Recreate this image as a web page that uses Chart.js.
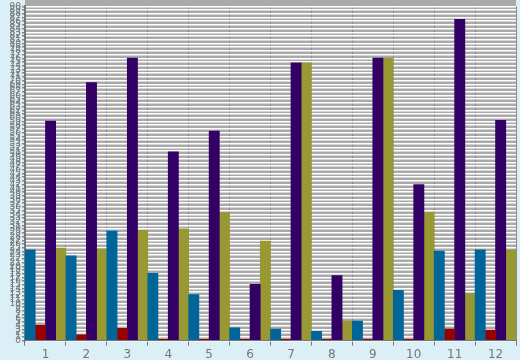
<!DOCTYPE html>
<html lang="en">
<head>
    <title>Bars</title>
    <meta charset="utf-8">
    <script src="https://cdn.jsdelivr.net/npm/chart.js@4.4.0/dist/chart.umd.min.js"></script>
    <style>
        html, body { margin: 0; padding: 0; background: #daeff6; }
        #wrap { width: 520px; height: 360px; }
    </style>
</head>
<body>
    <div id="wrap"><canvas id="chart" width="520" height="360"></canvas></div>
    <script>
    var categories = ["1", "2", "3", "4", "5", "6", "7", "8", "9", "10", "11", "12"];
    var seriesA = [24.4, 22.8, 29.5, 18.1, 12.4, 3.4, 3.1, 2.5, 5.2, 13.5, 24.1, 24.4];
    var seriesB = [4.1, 1.5, 3.3, 0.3, 0.3, 0.3, 0.3, 0.3, 0.3, 0.3, 3.1, 2.8];
    var seriesC = [59.1, 69.5, 76.1, 50.8, 56.4, 15.1, 74.8, 17.5, 76.1, 42.0, 86.5, 59.3];
    var seriesD = [24.9, 24.7, 29.7, 30.1, 34.5, 26.8, 74.8, 5.2, 76.1, 34.5, 12.7, 24.4];
    var yMax = 90;

    // grey plot background
    var plotBg = {
        id: "plotBg",
        beforeDraw: function(chart) {
            var a = chart.chartArea;
            var ctx = chart.ctx;
            ctx.save();
            ctx.fillStyle = "#aaaaaa";
            ctx.fillRect(a.left, 0, a.right - a.left, a.bottom);
            ctx.restore();
        }
    };

    var ctx = document.getElementById("chart").getContext("2d");
    var chart = new Chart(ctx, {
        type: "bar",
        data: {
            labels: categories,
            datasets: [
                { data: seriesA, backgroundColor: "#006699" },
                { data: seriesB, backgroundColor: "#990000" },
                { data: seriesC, backgroundColor: "#330066" },
                { data: seriesD, backgroundColor: "#999933" }
            ]
        },
        options: {
            responsive: false,
            animation: false,
            devicePixelRatio: 1,
            layout: { padding: { top: 3, right: 4, bottom: 0, left: 0 } },
            datasets: { bar: { barPercentage: 1, categoryPercentage: 1 } },
            plugins: { legend: { display: false }, tooltip: { enabled: false } },
            scales: {
                x: {
                    grid: { color: "#8a8a8a", lineWidth: 1, offset: true, tickLength: 5, tickColor: "#777777" },
                    border: { color: "#777777", width: 1 },
                    ticks: { color: "#777777", font: { family: "DejaVu Sans", size: 12 }, padding: 2 },
                    afterFit: function(s) { s.height = 19.5; }
                },
                y: {
                    min: 0,
                    max: yMax,
                    grid: { color: "#ffffff", lineWidth: 1.5, tickLength: 3, tickColor: "#888888" },
                    border: { color: "#777777", width: 2 },
                    ticks: { stepSize: 1, autoSkip: false, color: "#777777", font: { family: "DejaVu Sans", size: 9 }, padding: 1 },
                    afterFit: function(s) { s.width = 25; }
                }
            }
        },
        plugins: [plotBg]
    });
    </script>
</body>
</html>
